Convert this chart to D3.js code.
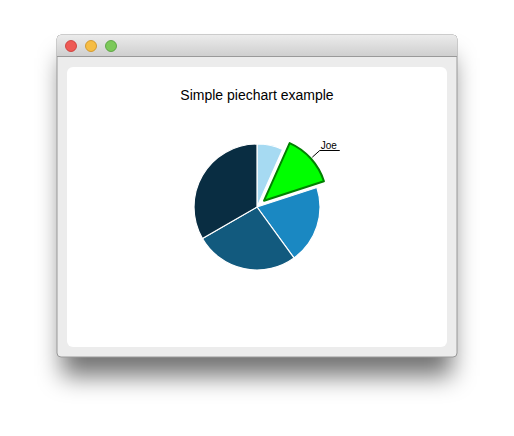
<!DOCTYPE html>
<html><head><meta charset="utf-8">
<script src="https://cdn.jsdelivr.net/npm/d3@7"></script>
<style>body{margin:0;background:#fff}</style>
</head><body>
<script>
// Pie chart in a mac-style window
const names = ["Jane", "Joe", "Andy", "Barbara", "Axel"];
const values = [1, 2, 3, 4, 5];
const colors = ["#a6daf2", "#00ff00", "#1a88c2", "#125a7e", "#092d42"];
const exploded = "Joe";

const svg = d3.select("body").append("svg").attr("width", 514).attr("height", 436);
const defs = svg.append("defs");
const blur = defs.append("filter").attr("id", "shadow").attr("x", "-30%").attr("y", "-30%").attr("width", "160%").attr("height", "170%");
blur.append("feGaussianBlur").attr("stdDeviation", 12);
const tg = defs.append("linearGradient").attr("id", "title").attr("x1", 0).attr("x2", 0).attr("y1", 0).attr("y2", 1);
tg.append("stop").attr("offset", 0).attr("stop-color", "#ebebeb");
tg.append("stop").attr("offset", 1).attr("stop-color", "#cfcfcf");

// ── Window ──────────────────────────────────────────────
svg.append("rect").attr("x", 62).attr("y", 58).attr("width", 390).attr("height", 318)
    .attr("fill", "rgba(0,0,0,0.55)").attr("filter", "url(#shadow)");
svg.append("rect").attr("x", 57).attr("y", 35).attr("width", 400).attr("height", 322).attr("rx", 4)
    .attr("fill", "#ececec").attr("stroke", "#9a9a9a");
svg.append("path").attr("d", "M57,56 V39 a4,4 0 0 1 4,-4 H453 a4,4 0 0 1 4,4 V56 Z").attr("fill", "url(#title)");
svg.append("line").attr("x1", 57).attr("x2", 457).attr("y1", 56.5).attr("y2", 56.5).attr("stroke", "#999");
[["#ee5a55", "#c8332e"], ["#f6bd45", "#cc8e1c"], ["#7cc95a", "#4e9a35"]].forEach((c, i) => {
    svg.append("circle").attr("cx", 71 + i * 20).attr("cy", 46).attr("r", 5.5)
        .attr("fill", c[0]).attr("stroke", c[1]).attr("stroke-width", 0.8);
});
svg.append("rect").attr("x", 67).attr("y", 67).attr("width", 380).attr("height", 280).attr("rx", 6).attr("fill", "#fff");

svg.append("text").attr("x", 257).attr("y", 100).attr("text-anchor", "middle")
    .style("font-family", "Liberation Sans, Arial, sans-serif").style("font-size", "14px")
    .text("Simple piechart example");

// ── Pie ─────────────────────────────────────────────────
const cx = 257, cy = 207, r = 63;
const data = names.map((n, i) => ({ name: n, value: values[i], color: colors[i] }));
const pie = d3.pie().value(d => d.value).sort(null);
const arc = d3.arc().innerRadius(0).outerRadius(r);
const g = svg.append("g").attr("transform", `translate(${cx},${cy})`);

pie(data).forEach(d => {
    const isEx = d.data.name === exploded;
    const mid = (d.startAngle + d.endAngle) / 2;
    const off = isEx ? 0.15 * r : 0;
    const sg = g.append("g").attr("transform", `translate(${Math.sin(mid) * off},${-Math.cos(mid) * off})`);
    sg.append("path").attr("d", arc(d)).attr("fill", d.data.color)
        .attr("stroke", isEx ? "#008000" : "#fff").attr("stroke-width", isEx ? 2 : 1.2)
        .attr("stroke-linejoin", "round");
    if (isEx) {
        const rr = r + off;
        const p1 = [Math.sin(mid) * (rr + 2), -Math.cos(mid) * (rr + 2)];
        const p2 = [Math.sin(mid) * (rr + 12), -Math.cos(mid) * (rr + 12)];
        g.append("path")
            .attr("d", `M${p1[0]},${p1[1]}L${p2[0]},${p2[1]}H${p2[0] + 20}`)
            .attr("fill", "none").attr("stroke", "#000").attr("stroke-width", 1);
        g.append("text").attr("x", p2[0] + 1).attr("y", p2[1] - 2)
            .style("font-family", "Liberation Sans, Arial, sans-serif").style("font-size", "10px")
            .text(d.data.name);
    }
});
</script>
</body></html>
